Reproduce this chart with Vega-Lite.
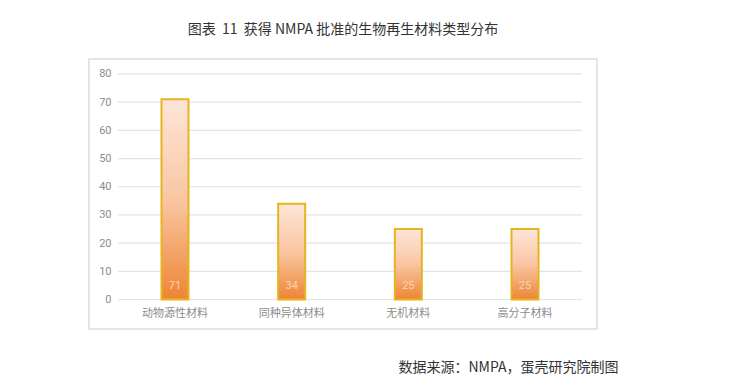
{
  "$schema": "https://vega.github.io/schema/vega-lite/v6.json",
  "autosize": {"type": "none"},
  "padding": {"left": 89, "top": 59, "right": 143, "bottom": 53},
  "width": 508,
  "height": 270,
  "background": "white",
  "config": {
    "font": "Noto Sans CJK SC",
    "view": {"stroke": "#dcdcdc", "strokeWidth": 1.5},
    "axisY": {"offset": -29, "labelPadding": 7, "domain": false, "ticks": false, "grid": false, "labelColor": "#8c8c8c", "labelFontSize": 11, "labelFont": "Roboto", "title": null}
  },
  "title": {
    "text": "图表\u00a0\u00a011\u00a0\u00a0获得 NMPA 批准的生物再生材料类型分布",
    "fontSize": 14,
    "fontWeight": "normal",
    "color": "#333333",
    "anchor": "middle",
    "offset": 22
  },
  "layer": [
    {
      "data": {"values": [{"value": 0}, {"value": 10}, {"value": 20}, {"value": 30}, {"value": 40}, {"value": 50}, {"value": 60}, {"value": 70}, {"value": 80}]},
      "mark": {"type": "rule", "color": "#e3e3e3", "strokeWidth": 1.2},
      "encoding": {
        "y": {"field": "value", "type": "quantitative", "scale": {"domain": [-10.46, 85.3], "nice": false, "zero": false},
          "axis": {"values": [0, 10, 20, 30, 40, 50, 60, 70, 80], "title": null}},
        "x": {"datum": 0, "type": "quantitative", "scale": {"domain": [0, 1], "range": [29, 493]}, "axis": null},
        "x2": {"datum": 1}
      }
    },
    {
      "data": {"values": [
        {"category": "动物源性材料", "value": 71},
        {"category": "同种异体材料", "value": 34},
        {"category": "无机材料", "value": 25},
        {"category": "高分子材料", "value": 25}
      ]},
      "encoding": {
        "x": {"field": "category", "type": "nominal", "sort": null,
          "scale": {"type": "band", "range": [29, 493], "paddingInner": 0.7686, "paddingOuter": 0.3728},
          "axis": {"offset": -30, "labelPadding": 8, "domain": false, "ticks": false, "grid": false, "labelAngle": 0, "labelColor": "#8c8c8c", "labelFontSize": 11,
            "title": "数据来源：NMPA，蛋壳研究院制图", "titleFontSize": 14, "titleFontWeight": "normal", "titleColor": "#333333", "titleX": 529, "titleY": 68, "titleAlign": "right", "titleBaseline": "middle", "titleAnchor": null}}
      },
      "layer": [
        {
          "mark": {"type": "bar", "stroke": "#e6b41e", "strokeWidth": 2,
            "color": {"gradient": "linear", "x1": 0, "y1": 0, "x2": 0, "y2": 1,
              "stops": [{"offset": 0, "color": "#fde6d9"}, {"offset": 0.5, "color": "#f9c6a2"}, {"offset": 1, "color": "#ee8534"}]}},
          "encoding": {
            "y": {"field": "value", "type": "quantitative", "scale": {"domain": [-10.46, 85.3], "nice": false, "zero": false},
              "axis": {"values": [0, 10, 20, 30, 40, 50, 60, 70, 80], "title": null}}
          }
        },
        {
          "mark": {"type": "text", "color": "#f9d3b6", "fontSize": 11, "dy": -14, "baseline": "middle", "font": "Roboto"},
          "encoding": {
            "y": {"datum": 0, "type": "quantitative", "scale": {"domain": [-10.46, 85.3], "nice": false, "zero": false},
              "axis": {"values": [0, 10, 20, 30, 40, 50, 60, 70, 80], "title": null}},
            "text": {"field": "value", "type": "quantitative"}
          }
        }
      ]
    }
  ],
  "resolve": {"scale": {"x": "independent"}}
}
